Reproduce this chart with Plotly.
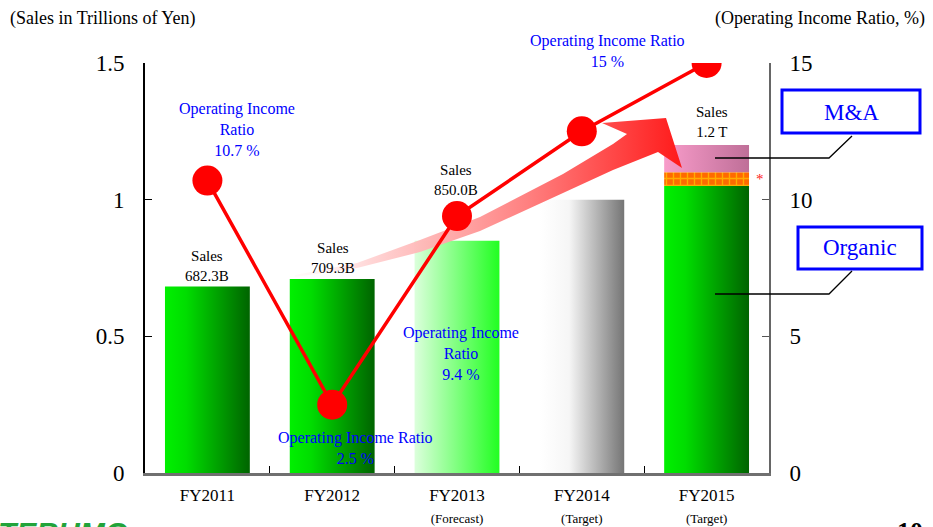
import plotly.graph_objects as go

# ---------------- data ----------------
categories = ["FY2011", "FY2012", "FY2013", "FY2014", "FY2015"]
sub_labels = ["", "", "(Forecast)", "(Target)", "(Target)"]
sales_organic = [0.6823, 0.7093, 0.850, 1.00, 1.05]   # trillions of yen
fy2015_other = 0.05        # checkered band (*)
fy2015_ma = 0.10           # M&A portion
sales_labels = ["682.3B", "709.3B", "850.0B", "", "1.2 T"]
op_ratio = [10.7, 2.5, 9.4, 12.5, 15.0]   # %
ratio_labels = ["Operating Income<br>Ratio<br>10.7 %",
                "Operating Income Ratio<br>2.5 %",
                "Operating Income<br>Ratio<br>9.4 %",
                "",
                "Operating Income Ratio<br>15 %"]

# ---------------- styles ----------------
SERIF = "Liberation Serif, Times New Roman, serif"
GREEN = [[0, "#00f000"], [0.25, "#00dd00"], [1, "#006400"]]
bar_scales = [GREEN, GREEN,
              [[0, "#dcffdc"], [1, "#22ff22"]],
              [[0, "#ffffff"], [0.35, "#f6f6f6"], [1, "#757575"]],
              GREEN]
PINK = [[0, "#f89cca"], [1, "#bf6f98"]]
BAR_W = 0.68

# plot area in pixels
L, R, T, B = 145, 769, 63, 473
W, H = 933, 527


def P(px, py):
    """pixel -> paper coordinates"""
    return (px - L) / (R - L), (B - py) / (B - T)


def D2(px, py):
    """pixel -> (x, y2) data coordinates"""
    return (px - L) / ((R - L) / 5) - 0.5, (B - py) * 15 / (B - T)


fig = go.Figure()


def grad_bar(i, base, top, scale, yaxis="y"):
    x0, x1 = i - BAR_W / 2, i + BAR_W / 2
    fig.add_trace(go.Scatter(
        x=[x0, x1, x1, x0, x0], y=[base, base, top, top, base],
        mode="lines", fill="toself", line=dict(width=0, color="rgba(0,0,0,0)"),
        fillgradient=dict(type="horizontal", colorscale=scale),
        hoverinfo="skip", showlegend=False, yaxis=yaxis))


for i, v in enumerate(sales_organic):
    grad_bar(i, 0, v, bar_scales[i])

# FY2015 checkered band and M&A
fig.add_trace(go.Bar(
    x=[4], y=[fy2015_other], base=[sales_organic[4]], width=BAR_W,
    marker=dict(color="#ff6a00", line=dict(width=0),
                pattern=dict(shape="+", fgcolor="#ffee00", bgcolor="#ff6a00",
                             size=7, solidity=0.35)),
    hoverinfo="skip", showlegend=False))
grad_bar(4, sales_organic[4] + fy2015_other,
         sales_organic[4] + fy2015_other + fy2015_ma, PINK)

# ---------------- big curved arrow (decoration) ----------------
lower = [(295, 277), (357, 268), (420, 252), (480, 231), (563, 193), (613, 170), (658, 152)]
head = [(682, 168), (666, 118), (602, 123)]
upper = [(627, 134), (613, 144), (563, 174), (480, 217), (420, 240), (357, 263), (295, 275)]
pts = lower + head + upper + [lower[0]]
ax, ay = zip(*[D2(px, py) for px, py in pts])
fig.add_trace(go.Scatter(
    x=list(ax), y=list(ay), yaxis="y2", mode="lines", fill="toself",
    line=dict(width=0, color="rgba(0,0,0,0)"),
    fillgradient=dict(type="horizontal",
                      colorscale=[[0, "rgba(255,240,240,0.3)"], [0.2, "rgba(255,210,210,0.95)"],
                                  [0.6, "#ff8080"], [1, "#ff1a1a"]]),
    hoverinfo="skip", showlegend=False))

# ---------------- operating income ratio line ----------------
fig.add_trace(go.Scatter(
    x=list(range(len(categories))), y=op_ratio, yaxis="y2",
    mode="lines+markers", line=dict(color="#ff0000", width=3.5),
    marker=dict(size=30, color="#ff0000"), showlegend=False, hoverinfo="skip"))

# ---------------- annotations ----------------
ann = []


def text(px, py, s, size, color="black", xanchor="center", yanchor="middle",
         family=SERIF, **kw):
    x, y = P(px, py)
    ann.append(dict(x=x, y=y, xref="paper", yref="paper", text=s, showarrow=False,
                    xanchor=xanchor, yanchor=yanchor,
                    font=dict(family=family, size=size, color=color), **kw))


text(8, 19, "(Sales in Trillions of Yen)", 18, xanchor="left")
text(927, 19, "(Operating Income Ratio, %)", 18, xanchor="right")

sales_pos = [(207, 266), (333, 258), (456, 180), None, (712, 122)]
for lab, pos in zip(sales_labels, sales_pos):
    if lab:
        text(pos[0], pos[1], "Sales<br>" + lab, 15)

ratio_pos = [(237, 129), (355, 448), (461, 353), None, (607, 51)]
for lab, pos in zip(ratio_labels, ratio_pos):
    if lab:
        text(pos[0], pos[1], lab, 16, color="#0000ff")

text(760, 179, "*", 15, color="#ff2020")
text(851, 112, "M&A", 23, color="#0000ff")
text(860, 248, "Organic", 23, color="#0000ff")
# page number and logo, cut by the bottom edge as in the slide
text(910, 515, "<b>10</b>", 26, yanchor="top")
text(-4, 514, "<b><i>TERUMO</i></b>", 30, color="#22a33a", xanchor="left", yanchor="top",
     family="Liberation Sans, Arial, sans-serif")

shapes = []


def rect(x0, y0, x1, y1):
    a, b = P(x0, y1)
    c, d = P(x1, y0)
    shapes.append(dict(type="rect", xref="paper", yref="paper", x0=a, y0=b, x1=c, y1=d,
                       line=dict(color="#0000ff", width=3), fillcolor="white"))


def poly(points):
    path = ""
    for k, (px, py) in enumerate(points):
        x, y = P(px, py)
        path += ("M" if k == 0 else "L") + f"{x},{y}"
    shapes.append(dict(type="path", xref="paper", yref="paper", path=path,
                       line=dict(color="black", width=1.3)))


rect(782, 90, 920, 133)
rect(798, 227, 922, 269)
poly([(715, 158), (829, 158), (852, 136)])
poly([(715, 294), (829, 294), (852, 271)])

ticktext = [c if not s else f"{c}<br><span style='font-size:13px'>{s}</span>"
            for c, s in zip(categories, sub_labels)]

fig.update_layout(
    width=W, height=H, margin=dict(l=L, r=W - R, t=T, b=H - B),
    paper_bgcolor="white", plot_bgcolor="white",
    font=dict(family=SERIF, color="black"),
    barmode="overlay", showlegend=False,
    annotations=ann, shapes=shapes,
    xaxis=dict(range=[-0.5, 4.5], tickvals=list(range(5)), ticktext=ticktext,
               automargin=False,
               ticks="", showgrid=False, zeroline=False,
               showline=True, linecolor="#707070", linewidth=2.5,
               tickfont=dict(family=SERIF, size=17, color="black"),
               ticklabelstandoff=5,
               minor=dict(tickvals=[0.5, 1.5, 2.5, 3.5], ticks="inside",
                          ticklen=7, tickcolor="black", tickwidth=1.2)),
    yaxis=dict(range=[0, 1.5], tickvals=[0, 0.5, 1, 1.5], ticktext=["0", "0.5", "1", "1.5"],
               automargin=False,
               ticks="inside", ticklen=7, tickcolor="black", showgrid=False, zeroline=False,
               showline=True, linecolor="black", linewidth=2,
               tickfont=dict(family=SERIF, size=23, color="black"),
               ticklabelstandoff=14),
    yaxis2=dict(range=[0, 15], tickvals=[0, 5, 10, 15], overlaying="y", side="right",
                automargin=False,
                ticks="inside", ticklen=7, tickcolor="#555", showgrid=False, zeroline=False,
                showline=True, linecolor="#666666", linewidth=2,
                tickfont=dict(family=SERIF, size=23, color="black"),
                ticklabelstandoff=14),
)

fig.write_html("out.html", config={"displayModeBar": False},
               post_script="document.body.style.margin='0';")
